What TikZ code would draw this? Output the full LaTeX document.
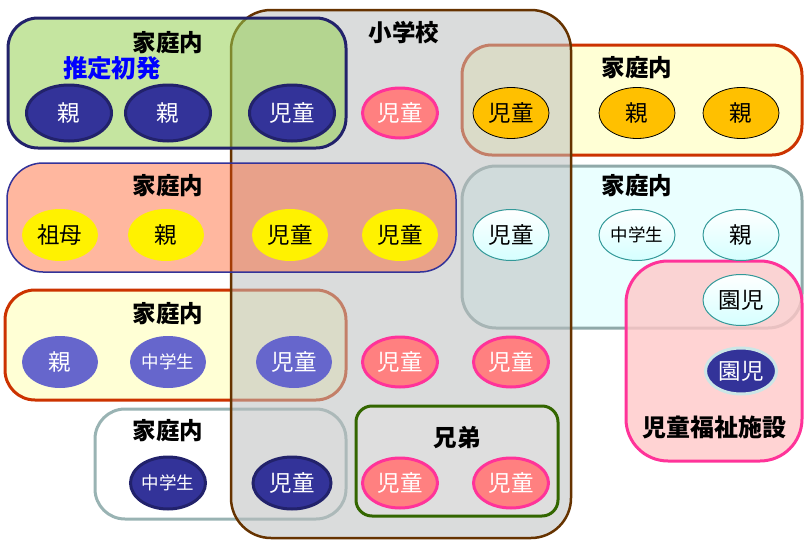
\documentclass[tikz,border=0pt]{standalone}
\usepackage{fontspec}
\setmainfont{Noto Sans CJK JP}
\usetikzlibrary{shapes.geometric}
\definecolor{navyF}{HTML}{333399}
\definecolor{navyB}{HTML}{22226B}
\definecolor{pinkF}{HTML}{FF8080}
\definecolor{pinkB}{HTML}{FF3399}
\definecolor{oraF}{HTML}{FFC000}
\definecolor{purF}{HTML}{6666CC}
\definecolor{cyB}{HTML}{339999}
\definecolor{cyF}{HTML}{D5FFFF}
\definecolor{lyF}{HTML}{FFFFD5}
\definecolor{redB}{HTML}{CC3300}
\definecolor{cyBoxF}{HTML}{EAFFFF}
\definecolor{cyBoxB}{HTML}{8FA9A9}
\definecolor{whB}{HTML}{99B3B3}
\definecolor{schF}{HTML}{BCBFBF}
\definecolor{schB}{HTML}{663300}
\definecolor{grnF}{HTML}{95CF52}
\definecolor{salF}{HTML}{FF4A10}
\definecolor{salB}{HTML}{333399}
\definecolor{pkBoxF}{HTML}{FFC8C8}
\definecolor{broB}{HTML}{336600}
\definecolor{broF}{HTML}{DEDEDE}
\tikzset{
  ell/.style={shape=ellipse, inner sep=0pt, font=\fontsize{22.5}{22.5}\selectfont},
  navyE/.style={ell, fill=navyF, draw=navyB, line width=3pt, text=white, minimum width=85pt, minimum height=56pt},
  navyS/.style={ell, fill=navyF, draw=navyB, line width=3pt, text=white, minimum width=75pt, minimum height=52pt},
  pinkE/.style={ell, fill=pinkF, draw=pinkB, line width=3pt, text=white, minimum width=75pt, minimum height=50pt},
  yelE/.style={ell, fill=yellow, minimum width=76pt, minimum height=52pt},
  oraE/.style={ell, fill=oraF, draw=black, line width=0.8pt, minimum width=76pt, minimum height=51pt},
  cyE/.style={ell, top color=white, bottom color=cyF, draw=cyB, line width=1pt, minimum width=76pt, minimum height=51pt},
  purE/.style={ell, fill=purF, text=white, minimum width=76pt, minimum height=52pt},
  small/.style={font=\fontsize{17.5}{17.5}\selectfont},
  lbl/.style={font=\bfseries\fontsize{23.5}{23.5}\selectfont, inner sep=0pt},
  boxline/.style={line width=3pt},
}
\begin{document}
\begin{tikzpicture}[x=1pt,y=-1pt]
\useasboundingbox (0,0) rectangle (804,541);
% boxes behind the school
\draw[boxline, draw=redB, fill=lyF, rounded corners=30pt] (462,45) rectangle (802,155);
\draw[boxline, draw=cyBoxB, fill=cyBoxF, rounded corners=34pt] (462,166) rectangle (802,328);
\draw[boxline, draw=redB, fill=lyF, rounded corners=30pt] (5,290) rectangle (346,400);
\draw[boxline, draw=whB, fill=white, rounded corners=30pt] (95,409) rectangle (346,519);
\draw[boxline, draw=pinkB, fill=pkBoxF, fill opacity=0.8, rounded corners=42pt] (626,261) rectangle (802,461);
% school
\fill[schF, fill opacity=0.55, rounded corners=40pt] (231,10) rectangle (571,538);
\draw[schB, line width=2.5pt, rounded corners=40pt] (231,10) rectangle (571,538);
% brothers
\draw[boxline, draw=broB, fill=broF, rounded corners=16pt] (356,406) rectangle (558,516);
% boxes over the school
\draw[boxline, draw=navyB, fill=grnF, fill opacity=0.55, rounded corners=30pt] (8,18) rectangle (346,148);
\draw[line width=1.5pt, draw=salB, fill=salF, fill opacity=0.4, rounded corners=36pt] (7,163) rectangle (456,272);
% labels
\node[lbl] (lsch) at (404,33) {小学校};
\node[lbl] (l1) at (168,43) {家庭内};
\node[lbl, text=blue, font=\bfseries\fontsize{24.5}{24.5}\selectfont] (lsuitei) at (112,68) {推定初発};
\node[lbl] (l2) at (637,68) {家庭内};
\node[lbl] (l3) at (168,186) {家庭内};
\node[lbl] (l4) at (637,186) {家庭内};
\node[lbl] (l5) at (168,314) {家庭内};
\node[lbl] (l6) at (168,431) {家庭内};
\node[lbl] (lbro) at (457,438) {兄弟};
\node[lbl, font=\bfseries\fontsize{24}{24}\selectfont] (lfac) at (714,427) {児童福祉施設};
% row 1
\node[navyE] (a1) at (69,113) {親};
\node[navyE] (a2) at (168,113) {親};
\node[navyE] (a3) at (292,113) {児童};
\node[pinkE] (a4) at (400,113) {児童};
\node[oraE] (a5) at (511,113) {児童};
\node[oraE] (a6) at (637,113) {親};
\node[oraE] (a7) at (741,113) {親};
% row 2
\node[yelE] (b1) at (60,235) {祖母};
\node[yelE] (b2) at (166,235) {親};
\node[yelE] (b3) at (290,235) {児童};
\node[yelE] (b4) at (400,235) {児童};
\node[cyE] (b5) at (511,235) {児童};
\node[cyE, small] (b6) at (637,235) {中学生};
\node[cyE] (b7) at (741,235) {親};
\node[cyE] (b8) at (741,300) {園児};
% row 3
\node[purE] (c1) at (60,362) {親};
\node[purE, small] (c2) at (168,362) {中学生};
\node[purE] (c3) at (294,362) {児童};
\node[pinkE] (c4) at (400,362) {児童};
\node[pinkE] (c5) at (511,362) {児童};
\node[ell, fill=navyF, draw=cyB!25, line width=3pt, text=white, minimum width=71pt, minimum height=46pt] (c6) at (741,371) {園児};
% row 4
\node[navyS, small] (d1) at (168,483) {中学生};
\node[navyS, minimum width=78pt] (d2) at (292,483) {児童};
\node[pinkE] (d3) at (400,483) {児童};
\node[pinkE] (d4) at (511,483) {児童};
\end{tikzpicture}
\end{document}
